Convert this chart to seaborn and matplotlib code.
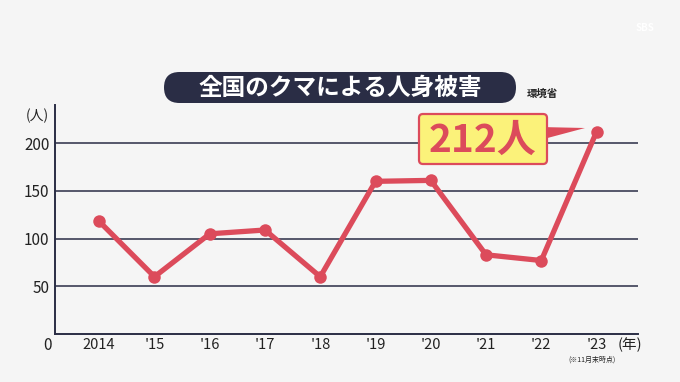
import matplotlib
matplotlib.use("Agg")
import matplotlib.pyplot as plt
import seaborn as sns
import pandas as pd
from matplotlib.patches import FancyBboxPatch, Polygon

years = [2014, 2015, 2016, 2017, 2018, 2019, 2020, 2021, 2022, 2023]
victims = [118, 60, 105, 109, 60, 160, 161, 83, 77, 212]
xlabels = ["2014", "'15", "'16", "'17", "'18", "'19", "'20", "'21", "'22", "'23"]
yticks = [50, 100, 150, 200]

sns.set_theme(style="white")
plt.rcParams['font.family'] = ['Noto Sans CJK JP', 'DejaVu Sans']

BG = "#f5f5f5"
NAVY = "#2a2d45"
RED = "#dc4b5b"

W, H = 680, 382
fig = plt.figure(figsize=(6.8, 3.82), dpi=100, facecolor=BG)
ax = fig.add_axes([55 / W, (H - 334) / H, (638 - 55) / W, (334 - 105) / H])
ax.set_facecolor(BG)

df = pd.DataFrame({"year": years, "victims": victims})
for y in yticks:
    ax.axhline(y, color=NAVY, lw=1.1, zorder=1)
sns.lineplot(data=df, x="year", y="victims", ax=ax, color=RED, lw=3.8,
             marker="o", markersize=9, markeredgewidth=0, zorder=3)

ax.set_xlim(2013.2, 2023.75)
ax.set_ylim(0, 240)
ax.set_xticks(years)
ax.set_xticklabels(xlabels)
ax.set_yticks(yticks)
ax.set_yticklabels([str(v) for v in yticks])
ax.tick_params(axis='both', length=0, labelsize=11, colors="#222222", pad=4)
ax.tick_params(axis='x', labelsize=10.5, pad=3)
ax.set_xlabel("")
ax.set_ylabel("")
for s in ["top", "right"]:
    ax.spines[s].set_visible(False)
for s in ["left", "bottom"]:
    ax.spines[s].set_color(NAVY)
    ax.spines[s].set_linewidth(1.4)

def fx(px):
    return px / W

def fy(py):
    return (H - py) / H

fig.text(fx(47), fy(345), "0", ha="center", va="center", fontsize=11, color="#222222")
fig.text(fx(37), fy(116), "(人)", ha="center", va="center", fontsize=10, color="#222222")
fig.text(fx(630), fy(345), "(年)", ha="center", va="center", fontsize=10.5, color="#222222")
fig.text(fx(592), fy(360), "(※11月末時点)", ha="center", va="center", fontsize=5, color="#222222")

# title pill (pixel coords, origin bottom-left)
title_box = FancyBboxPatch((164 + 15, H - 103), 516 - 164 - 30, 103 - 72,
                           boxstyle="round,pad=0,rounding_size=15.5",
                           transform=None, facecolor=NAVY, edgecolor="none")
title_box.set_boxstyle("round", pad=0, rounding_size=15.5)
title_box.set_x(164)
title_box.set_width(516 - 164)
fig.patches.append(title_box)
fig.text(fx(340), fy(88), "全国のクマによる人身被害", ha="center", va="center",
         fontsize=17, fontweight="bold", color="white")
fig.text(fx(542), fy(94), "環境省", ha="center", va="center", fontsize=7.5,
         fontweight="bold", color="#222222")

# callout
tri = Polygon([(540, H - 127), (540, H - 140), (585, H - 128)], closed=True,
              transform=None, facecolor=RED, edgecolor="none")
fig.patches.append(tri)
call_box = FancyBboxPatch((419, H - 164), 547 - 419, 164 - 114,
                          boxstyle="round,pad=0,rounding_size=4",
                          transform=None, facecolor="#fbf27a",
                          edgecolor=RED, linewidth=1.6)
fig.patches.append(call_box)
fig.text(fx(483), fy(140), "212人", ha="center", va="center", fontsize=28,
         fontweight="bold", color=RED)

fig.text(fx(645), fy(28), "SBS", ha="center", va="center", fontsize=7,
         fontweight="bold", color="white")

fig.savefig("out.png", dpi=100, facecolor=BG)
